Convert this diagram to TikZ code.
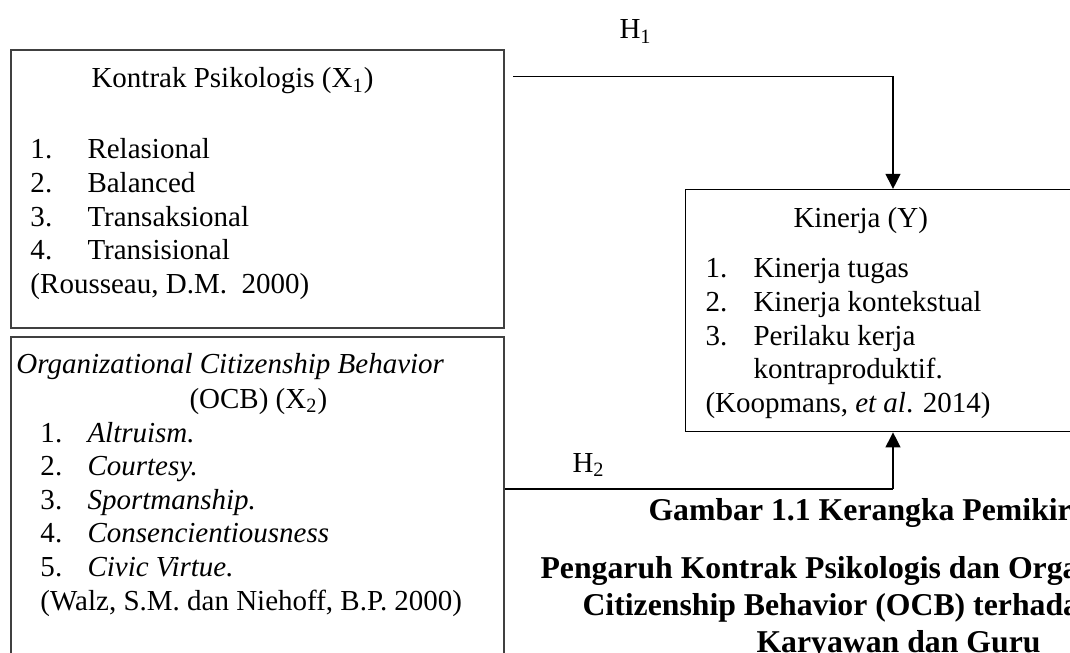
\documentclass[tikz,border=0pt]{standalone}
\usepackage{fontspec}
\setmainfont{Liberation Serif}
\usetikzlibrary{arrows.meta, positioning, calc}
\newcommand{\bodysize}{\fontsize{11.6pt}{13.4pt}\selectfont}
\newcommand{\capsize}{\fontsize{12.7pt}{14.6pt}\selectfont}
\tikzstyle{box} = [rectangle, draw=black!75, line width=0.65pt, anchor=north west, inner sep=0pt]
\tikzstyle{txt} = [anchor=base west, inner sep=0pt, font=\bodysize]
\tikzstyle{bold} = [txt, font=\capsize\bfseries]
\tikzstyle{wire} = [draw, line width=0.5pt]
\tikzstyle{line} = [draw, line width=0.9pt, -{Triangle[length=6pt,width=5.8pt]}]

\begin{document}
\begin{tikzpicture}[x=0.4pt, y=-0.4pt]
    \useasboundingbox (0,0) rectangle (1070,652);
    \clip (0,0) rectangle (1070,652);
    %%% Kontrak Psikologis:
    \node[box, minimum width=197.2pt, minimum height=111.2pt] (x1) at (10,49) {};
    \node[txt] (x1h) at (91,88) {Kontrak Psikologis (X\textsubscript{1})};
    \foreach \t [count=\i] in {Relasional, Balanced, Transaksional, Transisional} {
      \node[txt] (x1n\i) at (30,{159+33.6*(\i-1)}) {\i.};
      \node[txt] (x1t\i) at (87,{159+33.6*(\i-1)}) {\t};
    }
    \node[txt] (x1r) at (30,293) {(Rousseau, D.M.\ \ 2000)};
    %%% OCB:
    \node[box, minimum width=197.2pt, minimum height=160pt] (x2) at (10,336) {};
    \node[txt] (x2h) at (16,373) {\textit{Organizational Citizenship Behavior}};
    \node[txt] (x2s) at (189,408) {(OCB) (X\textsubscript{2})};
    \foreach \t [count=\i] in {Altruism., Courtesy., Sportmanship., Consencientiousness, Civic Virtue.} {
      \node[txt] (x2n\i) at (40,{442+33.6*(\i-1)}) {\i.};
      \node[txt] (x2t\i) at (87,{442+33.6*(\i-1)}) {\textit{\t}};
    }
    \node[txt] (x2r) at (40,610) {(Walz, S.M. dan Niehoff, B.P. 2000)};
    %%% Kinerja:
    \node[box, draw=black, line width=0.5pt, minimum width=170pt, minimum height=96.8pt] (y) at (685,189) {};
    \node[txt] (yh) at (793,227) {Kinerja (Y)};
    \foreach \t [count=\i] in {Kinerja tugas, Kinerja kontekstual, Perilaku kerja} {
      \node[txt] (yn\i) at (705,{277+34*(\i-1)}) {\i.};
      \node[txt] (yt\i) at (753,{277+34*(\i-1)}) {\t};
    }
    \node[txt] (yt4) at (753,378) {kontraproduktif.};
    \node[txt] (yr) at (705,412) {(Koopmans, \textit{et al}. 2014)};
    %%% Hypotheses:
    \coordinate (h1a) at (513,76.5);
    \coordinate (h1b) at (893,76.5);
    \coordinate (h2b) at (893,489);
    \path [wire] (h1a) -- (h1b);
    \path [line] (h1b) -- (h1b |- y.north);
    \path [wire] (x2.east |- h2b) -- (h2b);
    \path [line] (h2b) -- (h2b |- y.south);
    \node[txt] (h1) at (619,39) {H\textsubscript{1}};
    \node[txt] (h2) at (572,472) {H\textsubscript{2}};
    %%% Caption:
    \node[bold] (cap1) at (648,520) {Gambar 1.1 Kerangka Pemikiran};
    \node[bold] (cap2) at (540,578) {Pengaruh Kontrak Psikologis dan Organizational};
    \node[bold] (cap3) at (582,615) {Citizenship Behavior (OCB) terhadap};
    \node[bold] (cap4) at (756,652) {Karyawan dan Guru};
  \end{tikzpicture}
\end{document}
